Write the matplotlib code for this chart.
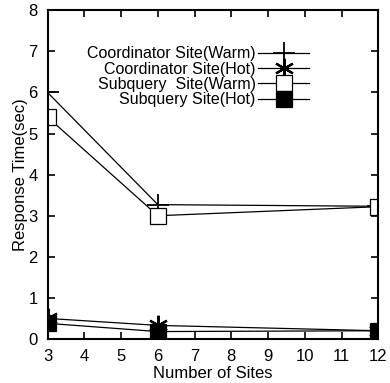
import matplotlib
matplotlib.use('Agg')
import matplotlib.pyplot as plt

plt.rcParams['font.family'] = ['Liberation Sans', 'DejaVu Sans']

sites = [3, 6, 12]
coord_warm = [6.0, 3.27, 3.23]
coord_hot = [0.5, 0.33, 0.2]
subq_warm = [5.4, 3.0, 3.22]
subq_hot = [0.38, 0.18, 0.2]

fig = plt.figure(figsize=(3.9, 3.83), dpi=100)
ax = fig.add_axes([0.122, 0.115, 0.848, 0.858])

ax.plot(sites, coord_warm, color='black', lw=0.9, marker='+', ms=16, mew=1.3,
        label='Coordinator Site(Warm)')
ax.plot(sites, coord_hot, color='black', lw=0.9, marker=(6, 2, 0), ms=14, mew=1.6,
        label='Coordinator Site(Hot)')
ax.plot(sites, subq_warm, color='black', lw=0.9, marker='s', ms=11, mew=0.9,
        mfc='white', label='Subquery  Site(Warm)')
ax.plot(sites, subq_hot, color='black', lw=0.9, marker='s', ms=11, mew=0.9,
        mfc='black', label='Subquery Site(Hot)')

ax.set_xlim(3, 12)
ax.set_ylim(0, 8)
ax.set_xticks(range(3, 13))
ax.set_yticks(range(0, 9))
ax.tick_params(direction='in', top=True, right=True, length=5, width=1.2,
               labelsize=12, pad=7)
for s in ax.spines.values():
    s.set_linewidth(1.5)
ax.set_xlabel('Number of Sites', fontsize=12, labelpad=2)
ax.set_ylabel('Response Time(sec)', fontsize=12, labelpad=0)

leg = ax.legend(loc='upper right', bbox_to_anchor=(0.81, 0.91), frameon=False,
                markerfirst=False, fontsize=11.5, labelspacing=0.02,
                handlelength=3.2, handletextpad=0.15, borderaxespad=0)
for t in leg.get_texts():
    t.set_ha('right')
leg._legend_box.align = 'right'

fig.savefig('out.png', dpi=100)
